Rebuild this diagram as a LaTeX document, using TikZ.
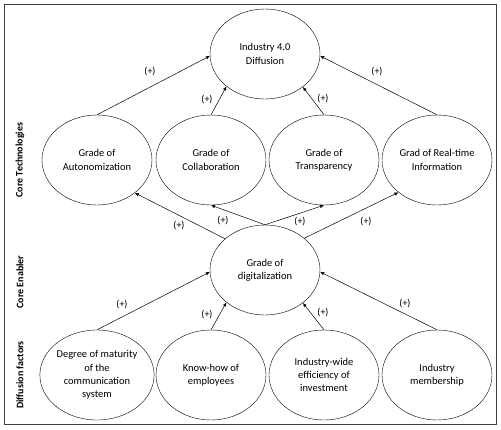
\documentclass[tikz,border=0pt]{standalone}
\usepackage{fontspec}
\setmainfont{Carlito}
\usetikzlibrary{arrows.meta,shapes.geometric}

\tikzset{
  factor/.style={draw, ellipse, minimum width=110pt, minimum height=90pt, inner sep=0pt,
    align=center, font=\fontsize{10.5}{13.3}\selectfont},
  sign/.style={font=\fontsize{10}{12}\selectfont, inner sep=1pt},
  layer/.style={rotate=90, font=\bfseries\fontsize{10}{12}\selectfont},
  link/.style={-{Latex[length=4pt,width=3.5pt]}, line width=0.5pt}
}

\begin{document}
\begin{tikzpicture}[x=1pt,y=-1pt]
		\useasboundingbox (0,0) rectangle (501,429);
		\draw[line width=0.8pt, black!75] (4,4) rectangle (496,424);
		
		% layers
		\node[layer] (lt) at (20,160) {Core Technologies};
		\node[layer] (le) at (20,282) {Core Enabler};
		\node[layer] (lf) at (20,375) {Diffusion factors};
		
		% ellipses
		\node[factor] (ind) at (265,54) {Industry 4.0\\Diffusion};
		
		\node[factor] (auto) at (97,160) {Grade of\\Autonomization};
		\node[factor] (collab) at (211,160) {Grade of\\Collaboration};
		\node[factor] (transp) at (324,160) {Grade of\\Transparency};
		\node[factor] (realtime) at (437,160) {Grad of Real-time\\Information};
		
		\node[factor] (digit) at (265,270) {Grade of\\digitalization};
		
		\node[factor] (maturity) at (97,375) {Degree of maturity\\of the\\communication\\system};
		\node[factor] (knowhow) at (211,375) {Know-how of\\employees};
		\node[factor] (effic) at (324,375) {Industry-wide\\efficiency of\\investment};
		\node[factor] (member) at (437,375) {Industry\\membership};
		
		% core technologies -> diffusion
		\draw[link] (auto.north) -- (ind.182);
		\draw[link] (collab.north) -- (ind.220);
		\draw[link] (transp.north) -- (ind.319);
		\draw[link] (realtime.north) -- (ind.358);
		
		% enabler -> core technologies
		\draw[link] (digit.142) -- (auto.319);
		\draw[link] (digit.north) -- (collab.south);
		\draw[link] (digit.north) -- (transp.south);
		\draw[link] (digit.39) -- (realtime.220);
		
		% diffusion factors -> enabler
		\draw[link] (maturity.north) -- (digit.182);
		\draw[link] (knowhow.north) -- (digit.220);
		\draw[link] (effic.north) -- (digit.319);
		\draw[link] (member.north) -- (digit.358);
		
		% signs
		\node[sign] (s1) at (150,72) {(+)};
		\node[sign] (s2) at (207,100) {(+)};
		\node[sign] (s3) at (323,99) {(+)};
		\node[sign] (s4) at (377,72) {(+)};
		\node[sign] (s5) at (179,226) {(+)};
		\node[sign] (s6) at (223,221) {(+)};
		\node[sign] (s7) at (300,222) {(+)};
		\node[sign] (s8) at (366,222) {(+)};
		\node[sign] (s9) at (122,305) {(+)};
		\node[sign] (s10) at (207,315) {(+)};
		\node[sign] (s11) at (323,313) {(+)};
		\node[sign] (s12) at (405,304) {(+)};
\end{tikzpicture}
\end{document}
